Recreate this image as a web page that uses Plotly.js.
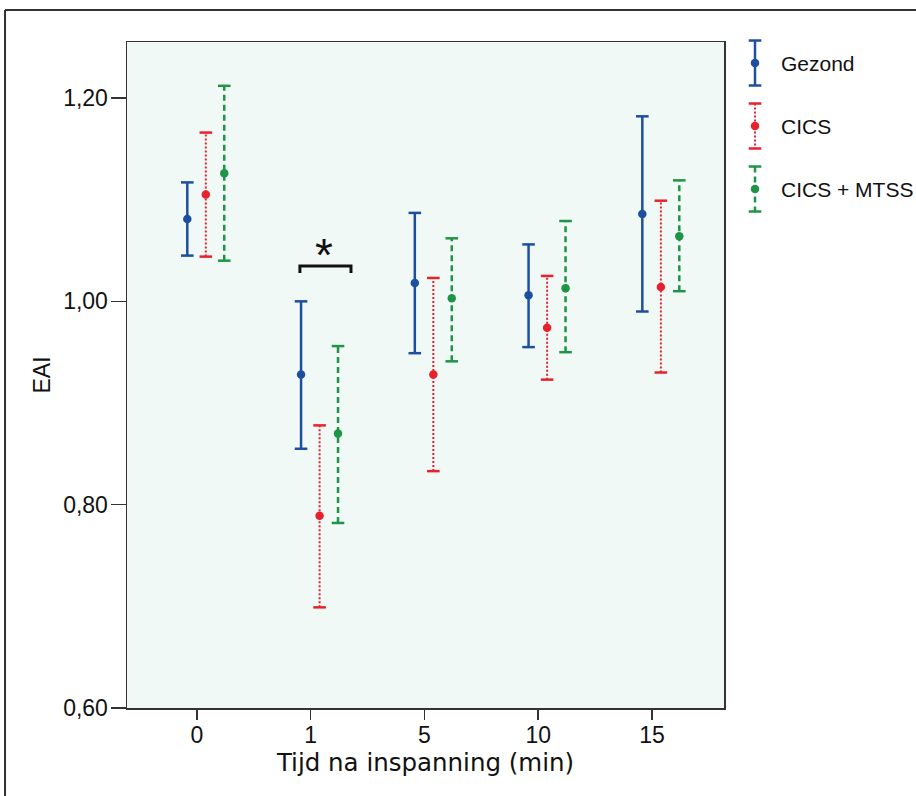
<!DOCTYPE html>
<html>
<head>
<meta charset="utf-8">
<script src="https://cdn.plot.ly/plotly-3.0.1.min.js"></script>
<style>
  html, body { margin: 0; padding: 0; background: #ffffff; }
  #chart { width: 916px; height: 796px; }
</style>
</head>
<body>
<div id="chart"></div>
<script>
// ---- data ----
const categories = ['0', '1', '5', '10', '15'];
const seriesNames = ['Gezond', 'CICS', 'CICS + MTSS'];

const gezondMean = [1.081, 0.928, 1.018, 1.006, 1.086];
const gezondLow  = [1.045, 0.855, 0.949, 0.955, 0.990];
const gezondHigh = [1.117, 1.000, 1.087, 1.056, 1.182];

const cicsMean = [1.105, 0.789, 0.928, 0.974, 1.014];
const cicsLow  = [1.044, 0.699, 0.833, 0.923, 0.930];
const cicsHigh = [1.166, 0.878, 1.023, 1.025, 1.099];

const mtssMean = [1.126, 0.870, 1.003, 1.013, 1.064];
const mtssLow  = [1.040, 0.782, 0.941, 0.950, 1.010];
const mtssHigh = [1.212, 0.956, 1.062, 1.079, 1.119];

const yTicks = [0.60, 0.80, 1.00, 1.20];

// ---- styles ----
const styles = [
  { color: '#1d4f9e', width: 2.5, dash: 'solid',   offset: -0.085 },
  { color: '#e8222c', width: 2,   dash: '2px,2px', offset: 0.078 },
  { color: '#1f9447', width: 2.5, dash: '6px,4px', offset: 0.24 }
];
const series = [
  { mean: gezondMean, low: gezondLow, high: gezondHigh },
  { mean: cicsMean,   low: cicsLow,   high: cicsHigh },
  { mean: mtssMean,   low: mtssLow,   high: mtssHigh }
];

const FONT = 'Liberation Sans, Arial, Helvetica, sans-serif';
const WIDE = 'DejaVu Sans, Liberation Sans, Arial, sans-serif';
const traces = [];

function addBarSet(xs, means, lows, highs, st, xa, ya) {
  const lx = [], ly = [];
  xs.forEach((x, i) => { lx.push(x, x, null); ly.push(lows[i], highs[i], null); });
  traces.push({
    type: 'scatter', mode: 'lines', x: lx, y: ly, xaxis: xa, yaxis: ya,
    line: { color: st.color, width: st.width, dash: st.dash },
    hoverinfo: 'skip', showlegend: false
  });
  traces.push({
    type: 'scatter', mode: 'markers',
    x: xs.concat(xs), y: lows.concat(highs), xaxis: xa, yaxis: ya,
    marker: { symbol: 'line-ew', size: 9, line: { color: st.color, width: 2.5 } },
    hoverinfo: 'skip', showlegend: false
  });
  traces.push({
    type: 'scatter', mode: 'markers', x: xs, y: means, xaxis: xa, yaxis: ya,
    marker: { symbol: 'circle', size: 8.5, color: st.color },
    showlegend: false
  });
}

series.forEach((s, k) => {
  const st = styles[k];
  const xs = categories.map((c, i) => i + st.offset);
  addBarSet(xs, s.mean, s.low, s.high, st, 'x', 'y');
});

// ---- custom legend (drawn in a helper axis pair) ----
const legendPos = [0, 1, 2];
const legendHalf = 0.357;
const annotations = [];
seriesNames.forEach((name, k) => {
  const st = styles[k];
  addBarSet([0], [legendPos[k]], [legendPos[k] - legendHalf], [legendPos[k] + legendHalf], st, 'x2', 'y2');
  annotations.push({
    xref: 'x2', yref: 'y2', x: 24, y: legendPos[k], text: name,
    showarrow: false, xanchor: 'left', yanchor: 'middle',
    font: { family: FONT, size: 21, color: '#111' }
  });
});

// significance asterisk
annotations.push({
  xref: 'x', yref: 'y', x: 1.115, y: 1.046, text: '*', showarrow: false,
  xanchor: 'center', yanchor: 'middle',
  font: { family: FONT, size: 46, color: '#111' }
});

const layout = {
  width: 916, height: 796,
  margin: { l: 127, r: 0, t: 30, b: 88, pad: 0 },
  paper_bgcolor: '#ffffff',
  plot_bgcolor: 'rgba(0,0,0,0)',
  separators: ',.',
  font: { family: FONT, size: 21, color: '#111' },
  showlegend: false,
  xaxis: {
    domain: [0, 597 / 789], anchor: 'y',
    range: [-0.615, 4.633],
    tickmode: 'array', tickvals: categories.map((c, i) => i), ticktext: categories,
    ticks: 'outside', ticklen: 10, tickwidth: 1.5, tickcolor: '#333',
    ticklabelstandoff: -4,
    showline: true, linecolor: '#333', linewidth: 1.5, mirror: true,
    showgrid: false, zeroline: false,
    tickfont: { family: FONT, size: 23, color: '#111' },
    title: { text: 'Tijd na inspanning (min)', font: { family: WIDE, size: 24.5, color: '#111' }, standoff: 6 }
  },
  yaxis: {
    domain: [0, 666 / 678], anchor: 'x',
    range: [0.6, 1.2551],
    tickmode: 'array', tickvals: yTicks, tickformat: '.2f',
    ticks: 'outside', ticklen: 15, tickwidth: 1.5, tickcolor: '#333',
    ticklabelstandoff: -2,
    showline: true, linecolor: '#333', linewidth: 1.5, mirror: true,
    showgrid: false, zeroline: false,
    tickfont: { family: FONT, size: 23, color: '#111' },
    title: { text: 'EAI', font: { family: FONT, size: 23, color: '#111' }, standoff: 6 }
  },
  xaxis2: {
    domain: [0, 1], anchor: 'y2', range: [-628, 161], visible: false, fixedrange: true
  },
  yaxis2: {
    domain: [0, 1], anchor: 'x2', range: [10.238, -0.524], visible: false, fixedrange: true
  },
  shapes: [
    // plot background
    { type: 'rect', xref: 'x domain', yref: 'y domain', x0: 0, x1: 1, y0: 0, y1: 1,
      fillcolor: '#f1f9f7', line: { width: 0 }, layer: 'below' },
    // significance bracket
    { type: 'path', xref: 'x', yref: 'y',
      path: 'M 0.905 1.0279 L 0.905 1.0348 L 1.354 1.0348 L 1.354 1.0279',
      line: { color: '#111', width: 3 } },
    // outer frame (top and left)
    { type: 'line', xref: 'paper', yref: 'paper', x0: -0.1546, x1: 1.01, y0: 1.0295, y1: 1.0295,
      line: { color: '#333', width: 2 } },
    { type: 'line', xref: 'paper', yref: 'paper', x0: -0.1546, x1: -0.1546, y0: 1.0295, y1: -0.2,
      line: { color: '#333', width: 2 } }
  ],
  annotations: annotations
};

Plotly.newPlot('chart', traces, layout, { staticPlot: true, displayModeBar: false });
</script>
</body>
</html>
